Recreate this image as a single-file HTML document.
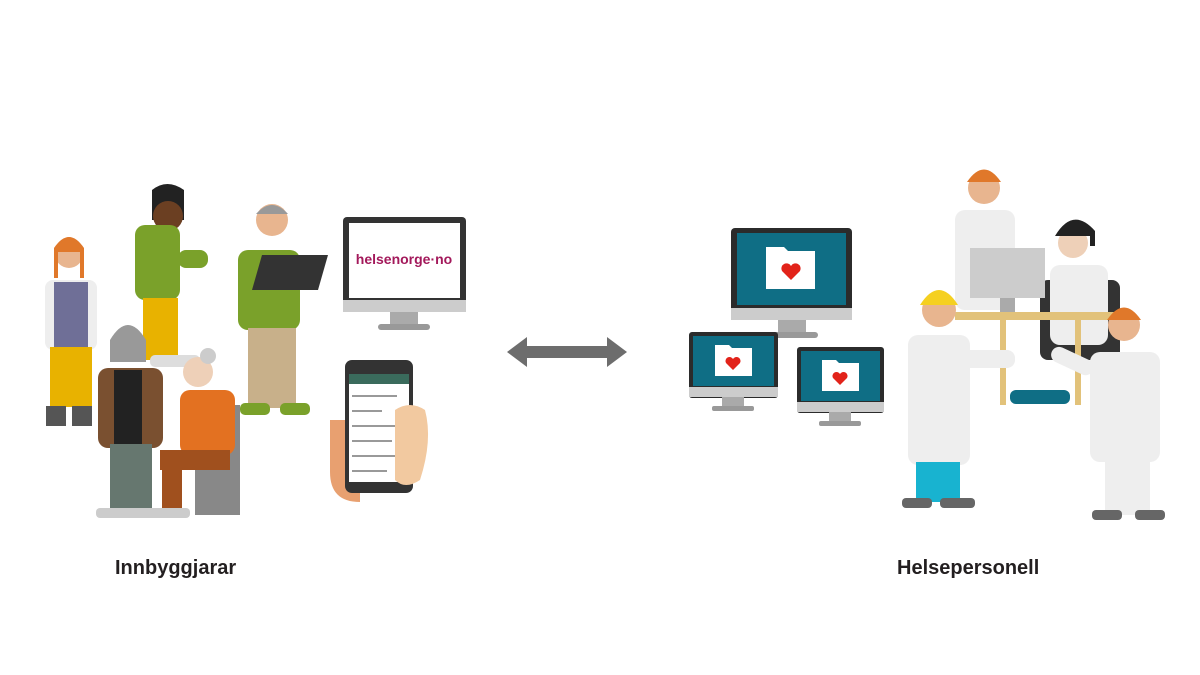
<!DOCTYPE html>
<html><head><meta charset="utf-8"><style>
html,body{margin:0;padding:0;background:#fff;width:1200px;height:675px;overflow:hidden}
svg{display:block}
text{font-family:"Liberation Sans",Arial,sans-serif}
</style></head><body>
<svg width="1200" height="675" viewBox="0 0 1200 675">
<!-- LEFT GROUP -->
<!-- woman left -->
<circle cx="69" cy="254" r="14" fill="#e8b58f"/>
<path d="M54 248 q15 -22 30 0 v30 h-4 v-26 h-22 v26 h-4z" fill="#e0782a"/>
<rect x="45" y="280" width="52" height="70" rx="8" fill="#eee"/>
<rect x="54" y="282" width="34" height="65" fill="#6f6f97"/>
<rect x="50" y="347" width="42" height="60" fill="#e8b200"/>
<rect x="46" y="406" width="20" height="20" fill="#555"/><rect x="72" y="406" width="20" height="20" fill="#555"/>
<!-- man green hoodie -->
<path d="M152 190 q15 -12 32 0 v30 h-32z" fill="#222"/>
<circle cx="168" cy="216" r="15" fill="#6b3f22"/>
<rect x="135" y="225" width="45" height="75" rx="10" fill="#7aa12a"/>
<rect x="178" y="250" width="30" height="18" rx="8" fill="#7aa12a"/>
<rect x="143" y="298" width="35" height="62" fill="#e8b200"/>
<rect x="150" y="355" width="50" height="12" rx="5" fill="#ddd"/>
<!-- man with laptop -->
<circle cx="272" cy="220" r="16" fill="#e8b58f"/>
<path d="M256 214 q16 -18 32 0z" fill="#999"/>
<rect x="238" y="250" width="62" height="80" rx="10" fill="#7aa12a"/>
<polygon points="262,255 328,255 318,290 252,290" fill="#333"/>
<rect x="248" y="328" width="48" height="80" fill="#c8b08a"/>
<rect x="240" y="403" width="30" height="12" rx="5" fill="#7aa12a"/><rect x="280" y="403" width="30" height="12" rx="5" fill="#7aa12a"/>
<!-- woman brown jacket -->
<circle cx="128" cy="343" r="16" fill="#e8b58f"/>
<path d="M110 340 q18 -30 36 0 v22 h-36z" fill="#999"/>
<rect x="98" y="368" width="65" height="80" rx="10" fill="#7a5030"/>
<rect x="114" y="370" width="28" height="75" fill="#222"/>
<rect x="110" y="444" width="42" height="70" fill="#66776f"/>
<rect x="96" y="508" width="60" height="10" rx="4" fill="#ccc"/>
<!-- old woman sitting -->
<rect x="195" y="405" width="45" height="110" fill="#888"/>
<circle cx="198" cy="372" r="15" fill="#eed0b8"/>
<circle cx="208" cy="356" r="8" fill="#ccc"/>
<rect x="180" y="390" width="55" height="65" rx="10" fill="#e37121"/>
<rect x="160" y="450" width="70" height="20" fill="#a0501e"/>
<rect x="162" y="465" width="20" height="48" fill="#a0501e"/>
<rect x="140" y="508" width="50" height="10" rx="4" fill="#ccc"/>
<!-- monitor helsenorge -->
<rect x="343" y="217" width="123" height="95" rx="4" fill="#333"/>
<rect x="349" y="223" width="111" height="75" fill="#fff"/>
<rect x="343" y="300" width="123" height="12" fill="#ccc"/>
<rect x="390" y="312" width="28" height="14" fill="#aaa"/>
<rect x="378" y="324" width="52" height="6" rx="3" fill="#999"/>
<text x="404" y="264" text-anchor="middle" font-size="14" font-weight="bold" fill="#a3195b" font-family="Liberation Serif,serif">helsenorge·no</text>
<!-- phone with hand -->
<path d="M330 420 h30 v82 q-30 0 -30 -30z" fill="#e8a070"/>
<rect x="345" y="360" width="68" height="133" rx="7" fill="#333"/>
<rect x="349" y="374" width="60" height="108" fill="#fff"/>
<rect x="349" y="374" width="60" height="10" fill="#3a6b5c"/>
<g fill="#999"><rect x="352" y="395" width="45" height="2"/><rect x="352" y="410" width="30" height="2"/><rect x="352" y="425" width="50" height="2"/><rect x="352" y="440" width="40" height="2"/><rect x="352" y="455" width="45" height="2"/><rect x="352" y="470" width="35" height="2"/></g>
<path d="M395 410 q15 -10 30 0 q8 30 -5 70 q-15 10 -25 0z" fill="#f2c9a0"/>
<text x="115" y="574" font-size="20" font-weight="bold" fill="#231f20">Innbyggjarar</text>
<!-- ARROW -->
<polygon points="507,352 527,337 527,346 607,346 607,337 627,352 607,367 607,358 527,358 527,367" fill="#6d6d6d"/>
<!-- RIGHT MONITORS -->
<g>
<rect x="731" y="228" width="121" height="92" rx="4" fill="#2b2b2b"/>
<rect x="737" y="233" width="109" height="72" fill="#0f6e85"/>
<rect x="731" y="308" width="121" height="12" fill="#ccc"/>
<rect x="778" y="320" width="28" height="14" fill="#aaa"/><rect x="766" y="332" width="52" height="6" rx="3" fill="#999"/>
<path d="M766 247 h18 l4 4 h27 v38 h-49z" fill="#fff"/>
<path d="M791 280 l-9 -9 a5 5 0 0 1 9 -5 a5 5 0 0 1 9 5z" fill="#e2231a"/>
</g>
<g>
<rect x="689" y="332" width="89" height="66" rx="3" fill="#2b2b2b"/>
<rect x="693" y="336" width="81" height="50" fill="#0f6e85"/>
<rect x="689" y="387" width="89" height="10" fill="#ccc"/>
<rect x="722" y="397" width="22" height="10" fill="#aaa"/><rect x="712" y="406" width="42" height="5" rx="2" fill="#999"/>
<path d="M715 345 h14 l3 3 h20 v28 h-37z" fill="#fff"/>
<path d="M733 370 l-7 -7 a4 4 0 0 1 7 -4 a4 4 0 0 1 7 4z" fill="#e2231a"/>
</g>
<g>
<rect x="797" y="347" width="87" height="66" rx="3" fill="#2b2b2b"/>
<rect x="801" y="351" width="79" height="50" fill="#0f6e85"/>
<rect x="797" y="402" width="87" height="10" fill="#ccc"/>
<rect x="829" y="412" width="22" height="10" fill="#aaa"/><rect x="819" y="421" width="42" height="5" rx="2" fill="#999"/>
<path d="M822 360 h14 l3 3 h20 v28 h-37z" fill="#fff"/>
<path d="M840 385 l-7 -7 a4 4 0 0 1 7 -4 a4 4 0 0 1 7 4z" fill="#e2231a"/>
</g>
<!-- RIGHT PEOPLE -->
<!-- top doctor -->
<circle cx="984" cy="188" r="16" fill="#e8b58f"/>
<path d="M967 182 q17 -25 34 0z" fill="#e0782a"/>
<rect x="955" y="210" width="60" height="100" rx="10" fill="#eee"/>
<!-- woman with headset -->
<rect x="1040" y="280" width="80" height="80" rx="8" fill="#333"/>
<circle cx="1073" cy="243" r="15" fill="#eed0b8"/>
<path d="M1055 236 q18 -30 40 -5 v15 h-5 v-10 h-30z" fill="#222"/>
<rect x="1050" y="265" width="58" height="80" rx="10" fill="#eee"/>
<!-- screen on desk -->
<rect x="970" y="248" width="75" height="50" fill="#ccc"/>
<rect x="1000" y="298" width="15" height="20" fill="#aaa"/>
<!-- desk -->
<rect x="955" y="312" width="160" height="8" fill="#e2c27a"/>
<rect x="1000" y="320" width="6" height="85" fill="#e2c27a"/><rect x="1075" y="320" width="6" height="85" fill="#e2c27a"/>
<rect x="1010" y="390" width="60" height="14" rx="6" fill="#0f6e85"/>
<!-- blond doctor -->
<circle cx="939" cy="310" r="17" fill="#e8b58f"/>
<path d="M920 305 q19 -30 38 0z" fill="#f5d020"/>
<rect x="908" y="335" width="62" height="130" rx="10" fill="#eee"/>
<rect x="960" y="350" width="55" height="18" rx="8" fill="#eee"/>
<rect x="916" y="462" width="44" height="40" fill="#18b3d0"/>
<rect x="902" y="498" width="30" height="10" rx="4" fill="#666"/><rect x="940" y="498" width="35" height="10" rx="4" fill="#666"/>
<!-- nurse right -->
<circle cx="1124" cy="325" r="16" fill="#e8b58f"/>
<path d="M1107 320 q17 -25 34 0z" fill="#e0782a"/>
<rect x="1090" y="352" width="70" height="110" rx="10" fill="#eee"/>
<rect x="1050" y="352" width="45" height="16" rx="8" fill="#eee" transform="rotate(25 1070 360)"/>
<rect x="1105" y="460" width="45" height="55" fill="#eee"/>
<rect x="1092" y="510" width="30" height="10" rx="4" fill="#666"/><rect x="1135" y="510" width="30" height="10" rx="4" fill="#666"/>
<text x="897" y="574" font-size="20" font-weight="bold" fill="#231f20">Helsepersonell</text>
</svg>
</body></html>
